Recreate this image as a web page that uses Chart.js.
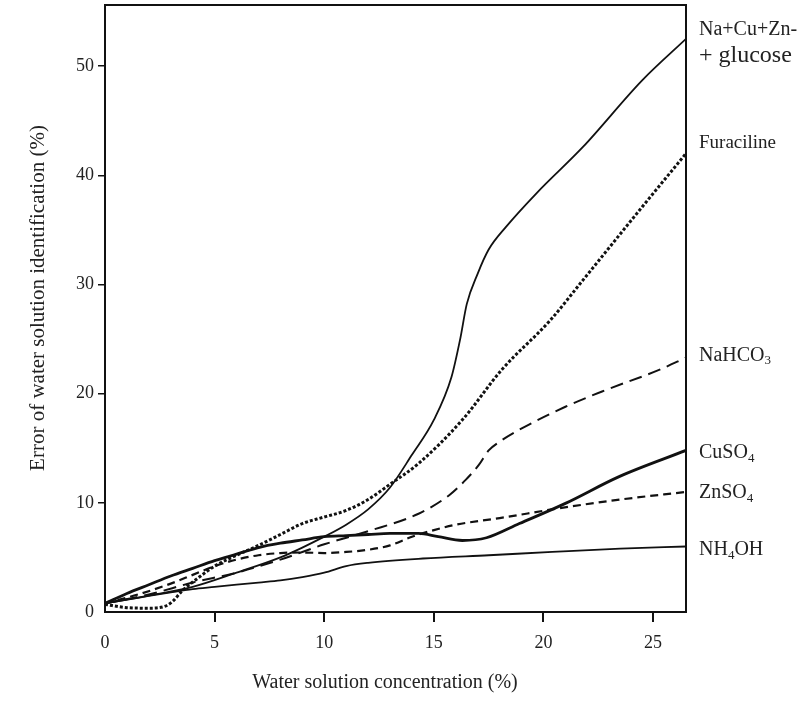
<!DOCTYPE html>
<html>
<head>
<meta charset="utf-8">
<script src="https://cdn.jsdelivr.net/npm/chart.js@4.4.1/dist/chart.umd.min.js"></script>
<style>
  html, body { margin: 0; padding: 0; background: #fff; }
  canvas { display: block; }
</style>
</head>
<body>
<canvas id="chart" width="799" height="702"></canvas>
<script>
// values
const xTicks = [0, 5, 10, 15, 20, 25];
const yTicks = [0, 10, 20, 30, 40, 50];

const glucoseX = [0, 2, 4, 6, 8, 9, 10, 11, 12, 13, 14, 15, 15.8, 16.2, 16.5, 17, 17.5, 18.3, 19.7, 21.8, 24.5, 26.5];
const glucoseY = [0.8, 1.5, 2.3, 3.6, 5.0, 5.9, 6.9, 8.0, 9.4, 11.4, 14.4, 17.6, 21.5, 25, 28.2, 31, 33.2, 35.3, 38.4, 42.6, 48.7, 52.5];

const furacilineX = [0, 1, 2, 2.7, 3.1, 3.5, 4.3, 5, 6, 7, 8, 9, 10, 11, 12, 13, 14.3, 16.3, 18.1, 20.3, 21.8, 24.5, 26.5];
const furacilineY = [0.7, 0.4, 0.35, 0.5, 1.0, 1.9, 3.2, 4.2, 5.2, 6.1, 7.1, 8.1, 8.7, 9.3, 10.3, 11.7, 13.6, 17.6, 22.2, 26.7, 30.4, 37.1, 42];

const nahco3X = [0, 2, 4, 6, 8, 10, 12, 14.3, 15.7, 16.45, 17.06, 17.5, 18, 18.9, 21, 22.8, 25.3, 26.5];
const nahco3Y = [0.8, 1.6, 2.7, 3.6, 4.8, 6.2, 7.4, 9.0, 10.7, 12.1, 13.5, 14.8, 15.6, 16.7, 18.8, 20.3, 22.2, 23.3];

const cuso4X = [0, 1, 2, 3, 4, 5, 6, 7, 8, 9, 10, 11, 12, 13, 14.3, 15.2, 16.3, 17.4, 18.9, 21, 23.45, 26.5];
const cuso4Y = [0.8, 1.7, 2.5, 3.3, 4.0, 4.7, 5.3, 5.9, 6.3, 6.6, 6.9, 7.0, 7.1, 7.2, 7.2, 6.9, 6.55, 6.8, 8.1, 9.95, 12.4, 14.8];

const znso4X = [0, 1.5, 3, 4, 5, 6, 7, 8, 9, 10, 11, 12, 13, 14, 15, 16, 18, 20.7, 23.5, 26.5];
const znso4Y = [0.8, 1.6, 2.6, 3.4, 4.2, 4.8, 5.2, 5.4, 5.45, 5.4, 5.5, 5.7, 6.1, 6.9, 7.5, 8.0, 8.6, 9.5, 10.3, 11.0];

const nh4ohX = [0, 1.5, 3, 4, 5, 6, 7, 8, 9, 10, 11, 12, 14.5, 17.5, 20.4, 23.5, 26.5];
const nh4ohY = [0.8, 1.3, 1.8, 2.1, 2.3, 2.5, 2.7, 2.9, 3.2, 3.6, 4.2, 4.5, 4.9, 5.2, 5.5, 5.8, 6.0];

// right-hand labels: [text, subscript] pieces
const seriesLabels = [
  [["Na+Cu+Zn-", false]],
  [["+ glucose", false]],
  [["Furaciline", false]],
  [["NaHCO", false], ["3", true]],
  [["CuSO", false], ["4", true]],
  [["ZnSO", false], ["4", true]],
  [["NH", false], ["4", true], ["OH", false]],
];
const labelLevels = [53.3, 51.0, 43.0, 23.5, 14.6, 10.9, 5.7];
const labelSizes = [20, 24, 19, 20, 20, 20, 20];

const xTitle = "Water solution concentration (%)";
const yTitle = "Error of water solution identification (%)";

const ink = "#111";
const serif = "'Liberation Serif', 'Times New Roman', serif";

function points(xs, ys) {
  return xs.map((x, i) => ({ x, y: ys[i] }));
}

function line(data, width, dash) {
  return {
    data,
    showLine: true,
    borderColor: ink,
    borderWidth: width,
    borderDash: dash,
    borderCapStyle: "butt",
    pointRadius: 0,
    cubicInterpolationMode: "monotone",
    fill: false,
  };
}

function drawPieces(ctx, pieces, x, y, size) {
  let cx = x;
  for (const [text, sub] of pieces) {
    ctx.font = `${sub ? Math.round(size * 0.65) : size}px ${serif}`;
    ctx.fillText(text, cx, sub ? y + size * 0.28 : y);
    cx += ctx.measureText(text).width;
  }
}

const decorations = {
  id: "decorations",
  afterDraw(chart) {
    const { ctx, chartArea: a, scales } = chart;
    ctx.save();
    ctx.strokeStyle = ink;
    ctx.lineWidth = 2;
    ctx.strokeRect(a.left, a.top, a.right - a.left, a.bottom - a.top);

    ctx.fillStyle = "#222";
    ctx.textBaseline = "middle";
    ctx.textAlign = "left";
    seriesLabels.forEach((pieces, i) => {
      drawPieces(ctx, pieces, 699, scales.y.getPixelForValue(labelLevels[i]), labelSizes[i]);
    });

    ctx.textAlign = "center";
    ctx.font = `20px ${serif}`;
    ctx.fillText(xTitle, 385, 683);

    ctx.translate(38, 298);
    ctx.rotate(-Math.PI / 2);
    ctx.font = `21px ${serif}`;
    ctx.fillText(yTitle, 0, 0);
    ctx.restore();
  },
};

new Chart(document.getElementById("chart"), {
  type: "scatter",
  data: {
    datasets: [
      line(points(glucoseX, glucoseY), 1.8, []),
      line(points(furacilineX, furacilineY), 3, [3, 2]),
      line(points(nahco3X, nahco3Y), 2, [13, 7]),
      line(points(cuso4X, cuso4Y), 2.8, []),
      line(points(znso4X, znso4Y), 2.2, [8, 5]),
      line(points(nh4ohX, nh4ohY), 1.8, []),
    ],
  },
  options: {
    responsive: false,
    animation: false,
    devicePixelRatio: 1,
    layout: { padding: { top: 5, right: 113, left: 0, bottom: 0 } },
    plugins: { legend: { display: false }, tooltip: { enabled: false } },
    scales: {
      x: {
        type: "linear",
        min: 0,
        max: 26.5,
        afterFit: (s) => { s.height = 90; s.paddingLeft = 0; s.paddingRight = 0; },
        afterBuildTicks: (s) => { s.ticks = xTicks.map((v) => ({ value: v })); },
        ticks: { color: "#222", padding: 10, font: { family: serif, size: 18 }, maxRotation: 0 },
        grid: {
          drawOnChartArea: false,
          tickLength: 10,
          lineWidth: 2,
          color: (c) => (c.tick && c.tick.value === 0 ? "rgba(0,0,0,0)" : ink),
        },
        border: { display: false },
      },
      y: {
        type: "linear",
        min: 0,
        max: 55.6,
        afterFit: (s) => { s.width = 105; s.paddingTop = 0; s.paddingBottom = 0; },
        afterBuildTicks: (s) => { s.ticks = yTicks.map((v) => ({ value: v })); },
        ticks: { color: "#222", padding: 4, font: { family: serif, size: 18 } },
        grid: {
          drawOnChartArea: false,
          tickLength: 7,
          lineWidth: 1.5,
          color: (c) => (c.tick && c.tick.value === 0 ? "rgba(0,0,0,0)" : ink),
        },
        border: { display: false },
      },
    },
  },
  plugins: [decorations],
});
</script>
</body>
</html>
